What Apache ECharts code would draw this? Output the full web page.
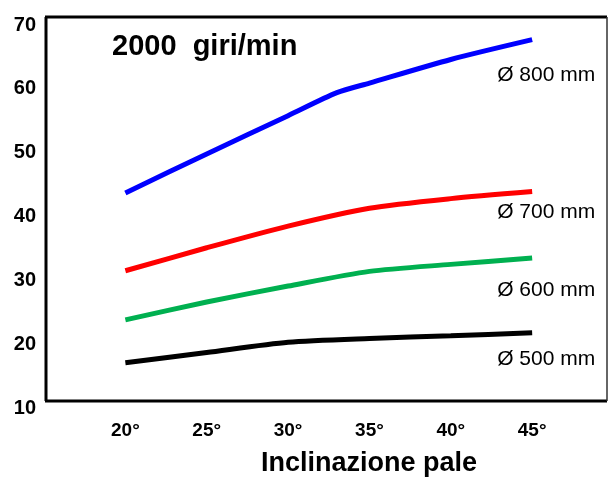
<!DOCTYPE html>
<html>
<head>
<meta charset="utf-8">
<script src="https://cdn.jsdelivr.net/npm/echarts@6/dist/echarts.min.js"></script>
<style>
html,body{margin:0;padding:0;background:#fff;}
#c{width:609px;height:477px;}
</style>
</head>
<body>
<div id="c"></div>
<script>
const angles = [20, 25, 30, 35, 40, 45];
const anglesBlue = [20, 25, 30, 33, 35, 40, 45];
const d800 = [43.7, 49.8, 55.8, 59.4, 60.9, 64.6, 67.7];
const d700 = [31.5, 35.1, 38.5, 41.3, 42.8, 43.9];
const d600 = [23.8, 26.6, 29.1, 31.4, 32.5, 33.5];
const d500 = [17.1, 18.7, 20.3, 20.9, 21.3, 21.8];
const seriesNames = ['Ø 800 mm', 'Ø 700 mm', 'Ø 600 mm', 'Ø 500 mm'];
const yTicks = [10, 20, 30, 40, 50, 60, 70];
const xTicks = [20, 25, 30, 35, 40, 45];
const titleText = '2000  giri/min';
const xTitle = 'Inclinazione pale';

const pairs = (xs, ys) => xs.map((x, i) => [x, ys[i]]);
const font = 'Liberation Sans, Arial, sans-serif';

const chart = echarts.init(document.getElementById('c'), null, {renderer: 'canvas'});

function mkSeries(name, xs, ys, color, dy) {
  return {
    name: name,
    type: 'line',
    data: pairs(xs, ys),
    showSymbol: false,
    smooth: 0.25,
    lineStyle: {color: color, width: 5},
    itemStyle: {color: color},
    endLabel: {
      show: true,
      formatter: name,
      color: '#000',
      fontFamily: font,
      fontSize: 21,
      align: 'left',
      verticalAlign: 'middle',
      offset: [-43, dy]
    },
    z: 3
  };
}

chart.setOption({
  animation: false,
  backgroundColor: '#fff',
  grid: {left: 44, right: 2, top: 25, bottom: 69},
  xAxis: {
    type: 'value',
    min: 15,
    max: 49.6,
    interval: 5,
    axisLine: {show: false},
    axisTick: {show: false},
    splitLine: {show: false},
    axisLabel: {
      margin: 13,
      color: '#000',
      fontFamily: font,
      fontWeight: 'bold',
      fontSize: 19,
      showMaxLabel: false,
      formatter: v => (xTicks.indexOf(v) >= 0 ? v + '°' : '')
    }
  },
  yAxis: {
    type: 'value',
    min: 10,
    max: 70,
    interval: 10,
    axisLine: {show: false},
    axisTick: {show: false},
    splitLine: {show: false},
    axisLabel: {
      margin: 8,
      color: '#000',
      fontFamily: font,
      fontWeight: 'bold',
      fontSize: 20,
      formatter: v => (yTicks.indexOf(v) >= 0 ? String(v) : '')
    }
  },
  series: [
    mkSeries(seriesNames[0], anglesBlue, d800, '#0000ff', 36),
    mkSeries(seriesNames[1], angles, d700, '#ff0000', 21),
    mkSeries(seriesNames[2], angles, d600, '#00b050', 32),
    mkSeries(seriesNames[3], angles, d500, '#000000', 27)
  ],
  graphic: [
    {type: 'line', shape: {x1: 46, y1: 17, x2: 46, y2: 401}, style: {stroke: '#000', lineWidth: 3}, z: 10},
    {type: 'line', shape: {x1: 45, y1: 17, x2: 607, y2: 17}, style: {stroke: '#000', lineWidth: 3}, z: 10},
    {type: 'line', shape: {x1: 45, y1: 401, x2: 607, y2: 401}, style: {stroke: '#000', lineWidth: 3}, z: 10},
    {type: 'line', shape: {x1: 607, y1: 17, x2: 607, y2: 401}, style: {stroke: '#333', lineWidth: 1.5}, z: 10},
    {type: 'text', left: 112, top: 32, style: {text: titleText, fill: '#000', font: 'bold 29px ' + font}, z: 10},
    {type: 'text', x: 369, y: 464, style: {text: xTitle, fill: '#000', font: 'bold 27px ' + font, align: 'center', verticalAlign: 'middle'}, z: 10}
  ]
});
</script>
</body>
</html>
